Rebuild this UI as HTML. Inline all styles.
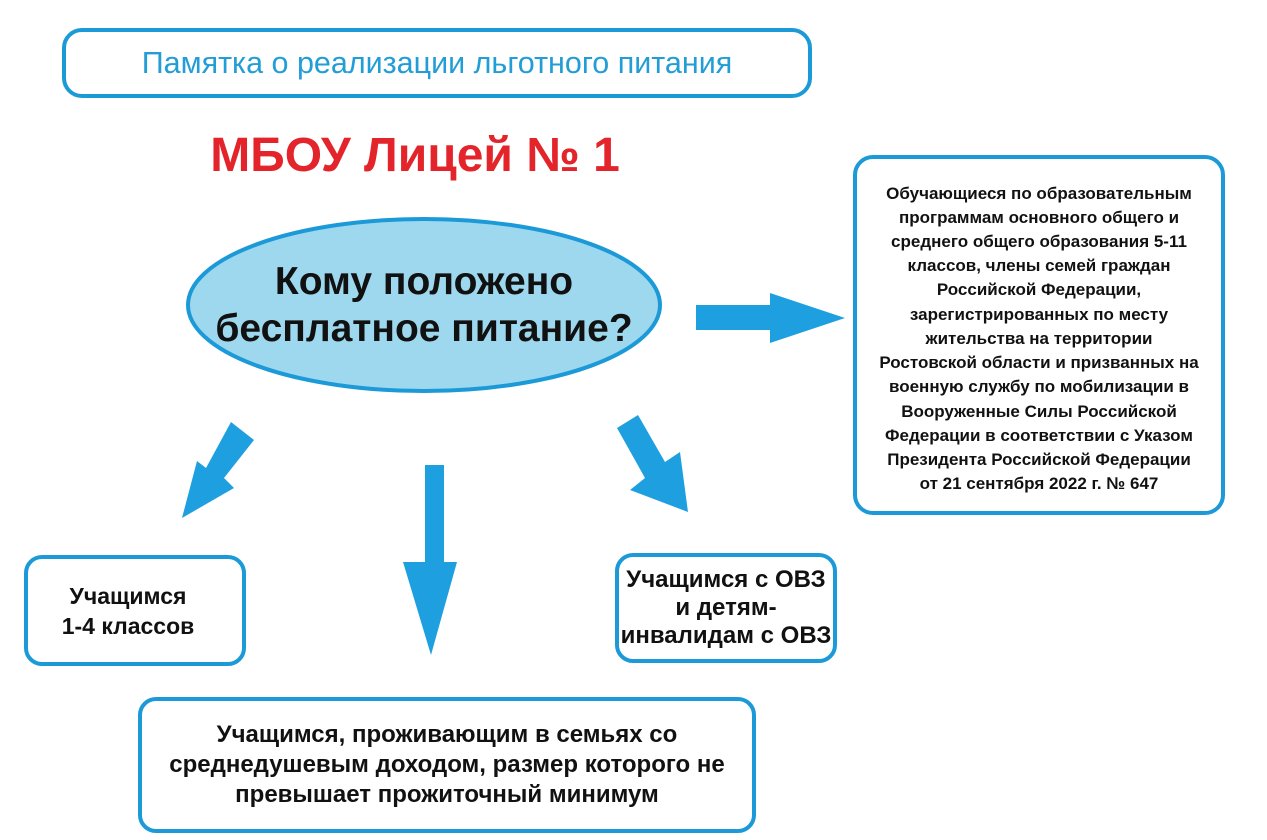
<!DOCTYPE html>
<html><head><meta charset="utf-8"><style>
body{margin:0;width:1267px;height:840px;background:#fff;position:relative;overflow:hidden;font-family:"Liberation Sans",sans-serif}
.b{position:absolute;border:4px solid #1c9ad8;border-radius:18px;box-sizing:border-box;display:flex;align-items:center;justify-content:center;text-align:center;font-weight:bold;color:#111;white-space:nowrap}
</style></head><body>
<svg width="1267" height="840" style="position:absolute;left:0;top:0">
<ellipse cx="424" cy="305" rx="236" ry="86" fill="#9dd8ee" stroke="#1c9ad8" stroke-width="4"/>
<polygon points="696,305 770,305 770,293 845,318 770,343 770,330 696,330" fill="#1ea0e0"/>
<polygon points="231,422 254,440 224,478 234,488 182,518 197,461 206,468" fill="#1ea0e0"/>
<polygon points="425,465 444,465 444,562 457,562 431,655 403,562 425,562" fill="#1ea0e0"/>
<polygon points="617,428 638,415 665,462 680,452 688,512 630,490 645,478" fill="#1ea0e0"/>
</svg>
<div class="b" style="left:62px;top:28px;width:750px;height:70px;border-radius:20px;font-weight:normal;color:#229dd6;font-size:30.5px">Памятка о реализации льготного питания</div>
<div style="position:absolute;left:150px;top:128px;width:530px;text-align:center;color:#e3242b;font-weight:bold;font-size:48px">МБОУ Лицей № 1</div>
<div style="position:absolute;left:160px;top:258px;width:528px;text-align:center;font-weight:bold;font-size:39px;line-height:47px;color:#111">Кому положено<br>бесплатное питание?</div>
<div class="b" style="left:853px;top:155px;width:372px;height:360px;font-size:17px;line-height:24.2px;border-radius:20px;padding-top:8px">Обучающиеся по образовательным<br>программам основного общего и<br>среднего общего образования 5-11<br>классов, члены семей граждан<br>Российской Федерации,<br>зарегистрированных по месту<br>жительства на территории<br>Ростовской области и призванных на<br>военную службу по мобилизации в<br>Вооруженные Силы Российской<br>Федерации в соответствии с Указом<br>Президента Российской Федерации<br>от 21 сентября 2022 г. № 647</div>
<div class="b" style="left:24px;top:555px;width:222px;height:111px;font-size:23px;line-height:30px;padding-right:14px">Учащимся<br>1-4 классов</div>
<div class="b" style="left:615px;top:553px;width:222px;height:110px;font-size:24px;line-height:28px">Учащимся с ОВЗ<br>и детям-<br>инвалидам с ОВЗ</div>
<div class="b" style="left:138px;top:697px;width:618px;height:136px;font-size:24px;line-height:30px">Учащимся, проживающим в семьях со<br>среднедушевым доходом, размер которого не<br>превышает прожиточный минимум</div>
</body></html>
